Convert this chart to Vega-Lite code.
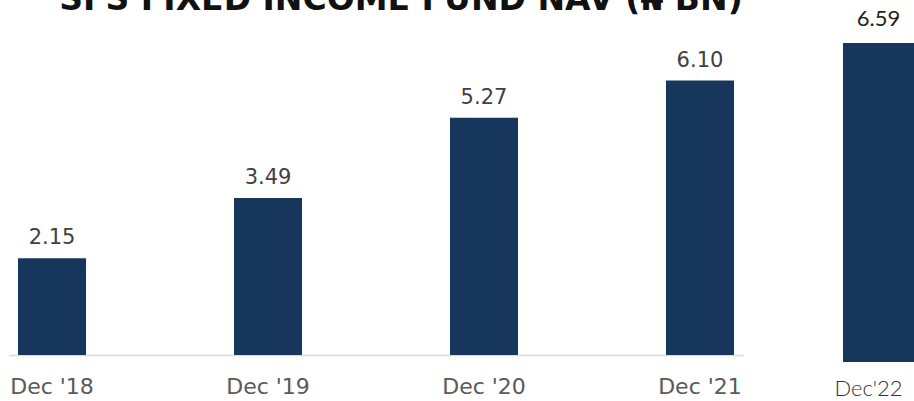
{
  "$schema": "https://vega.github.io/schema/vega-lite/v6.json",
  "padding": {"left": 9, "top": 0, "right": 0, "bottom": 0},
  "autosize": {"type": "pad"},
  "bounds": "flush",
  "spacing": 100,
  "background": "white",
  "config": {"view": {"stroke": null}},
  "datasets": {
    "nav": [
      {"period": "Dec '18", "nav": 2.15},
      {"period": "Dec '19", "nav": 3.49},
      {"period": "Dec '20", "nav": 5.27},
      {"period": "Dec '21", "nav": 6.10}
    ],
    "nav22": [
      {"period": "Dec'22", "nav": 6.59}
    ],
    "heading": [
      {"title": "SFS FIXED INCOME FUND NAV (₦ BN)"}
    ]
  },
  "hconcat": [
    {
      "width": 734,
      "height": 355,
      "layer": [
        {
          "data": {"name": "nav"},
          "mark": {"type": "bar", "color": "#16365C"},
          "encoding": {
            "x": {
              "field": "period", "type": "nominal", "sort": null,
              "scale": {"paddingInner": 0.685, "paddingOuter": 0.0417},
              "axis": {
                "title": null, "labelAngle": 0, "domain": true,
                "domainColor": "#D9D9D9", "domainWidth": 1.5, "ticks": false,
                "labelFont": "DejaVu Sans", "labelFontSize": 22,
                "labelColor": "#595959", "labelPadding": 21
              }
            },
            "y": {
              "field": "nav", "type": "quantitative",
              "scale": {"domain": [0, 7.889], "nice": false, "zero": true}, "axis": null
            }
          }
        },
        {
          "data": {"name": "nav"},
          "mark": {"type": "text", "font": "DejaVu Sans", "fontSize": 21, "color": "#404040", "baseline": "alphabetic", "dy": -14},
          "encoding": {
            "x": {"field": "period", "type": "nominal", "sort": null},
            "y": {"field": "nav", "type": "quantitative"},
            "text": {"field": "nav", "type": "quantitative", "format": ".2f"}
          }
        },
        {
          "data": {"name": "heading"},
          "mark": {"type": "text", "font": "DejaVu Sans", "fontSize": 33, "fontWeight": "bold", "color": "#111111", "baseline": "alphabetic", "align": "center", "dx": 25, "clip": true},
          "encoding": {
            "y": {"datum": 7.667, "type": "quantitative"},
            "text": {"field": "title", "type": "nominal"}
          }
        }
      ]
    },
    {
      "width": 71,
      "height": 362,
      "layer": [
        {
          "data": {"name": "nav22"},
          "mark": {"type": "bar", "color": "#16365C"},
          "encoding": {
            "x": {
              "field": "period", "type": "nominal",
              "scale": {"paddingInner": 0, "paddingOuter": 0},
              "axis": {
                "title": null, "labelAngle": 0, "domain": false, "ticks": false,
                "labelFont": "Lato", "labelFontSize": 22, "labelFontWeight": 300,
                "labelColor": "#333333", "labelPadding": 16, "labelOffset": -10
              }
            },
            "y": {
              "field": "nav", "type": "quantitative",
              "scale": {"domain": [0, 7.48], "nice": false, "zero": true}, "axis": null
            }
          }
        },
        {
          "data": {"name": "nav22"},
          "mark": {"type": "text", "font": "Lato", "fontSize": 22, "color": "#231F20", "baseline": "alphabetic", "dy": -17},
          "encoding": {
            "x": {"field": "period", "type": "nominal"},
            "y": {"field": "nav", "type": "quantitative"},
            "text": {"field": "nav", "type": "quantitative", "format": ".2f"}
          }
        }
      ]
    }
  ]
}
